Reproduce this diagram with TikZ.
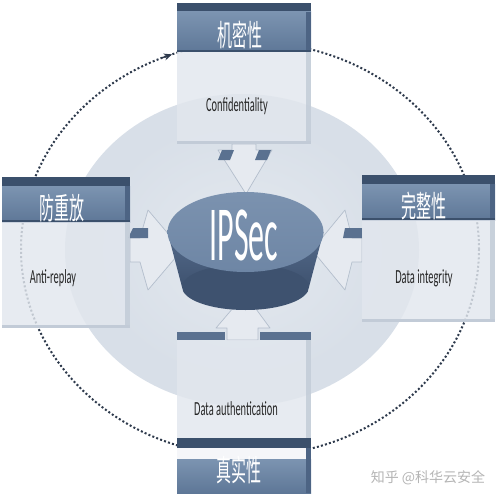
\documentclass[tikz,border=0pt]{standalone}
\usepackage{fontspec}
\setmainfont{Carlito}
\newfontfamily\cjk{Noto Sans CJK SC}
\usetikzlibrary{arrows.meta}
\definecolor{hdark}{HTML}{3B506C}
\definecolor{hblueT}{HTML}{7C94B1}
\definecolor{hblueB}{HTML}{5E7797}
\definecolor{hside}{HTML}{4D6484}
\definecolor{bodyc}{HTML}{E2E7EE}
\definecolor{bodyside}{HTML}{BCC6D3}
\definecolor{bodyedge}{HTML}{C2CBD7}
\definecolor{ellin}{HTML}{E4E9EF}
\definecolor{ellout}{HTML}{D8DFE8}
\definecolor{arrc}{HTML}{E6EAF0}
\definecolor{arredge}{HTML}{B3BECC}
\definecolor{tabc}{HTML}{5A7190}
\definecolor{cyltop}{HTML}{6E86A5}
\definecolor{cyltopL}{HTML}{7B92AF}
\definecolor{cylsideT}{HTML}{556B8B}
\definecolor{cylsideB}{HTML}{3E526F}
\definecolor{dotc}{HTML}{2E3A4C}
\definecolor{wmark}{HTML}{B5B5B5}
\newcommand\cnd[2]{\scalebox{#1}[1]{#2}}
\newcommand\ipbox[5]{%
  \fill[hdark] (#1,#2) rectangle (#3,#2+9);
  \shade[top color=hblueT, bottom color=hblueB] (#1,#2+9) rectangle (#3,#4);
  \fill[hside] (#3-5,#2+9) rectangle (#3,#4);
  \fill[hdark] (#1,#4-2) rectangle (#3,#4);
  \fill[bodyc, fill opacity=0.82] (#1,#4) rectangle (#3,#5);
  \fill[bodyside, fill opacity=0.7] (#3-5,#4) rectangle (#3,#5);
  \fill[bodyedge] (#1,#5-3) rectangle (#3,#5);
}
\tikzset{
  cn/.style={text=white, inner sep=0pt, font=\cjk\fontsize{30}{30}\selectfont},
  en/.style={text=black!85, inner sep=0pt, anchor=base, font=\fontsize{20}{20}\selectfont},
  arrow shape/.style={fill=arrc, draw=arredge, line width=0.7pt, line join=round},
  tab/.style={fill=tabc},
  dotline/.style={draw=dotc, line width=2pt, dash pattern=on 2pt off 2.2pt},
}
\begin{document}
\begin{tikzpicture}[x=1pt,y=-1pt]
\useasboundingbox (0,0) rectangle (500,500);
\fill[white] (0,0) rectangle (500,500);
% background ellipse
\fill[ellout] (242,250) ellipse [x radius=177, y radius=156];
\shade[inner color=ellin, outer color=ellout] (242,250) ellipse [x radius=150, y radius=130];
% dotted cycle
\draw[dotline] (250,249) ellipse [x radius=229, y radius=207];
\coordinate (arrS) at (162,57.8);
\coordinate (arrE) at (172,54.4);
\draw[draw=dotc, line width=1.4pt, -{Stealth[length=8pt,width=7pt]}] (arrS) -- (arrE);
% connector arrows
\draw[arrow shape] (232,144) -- (256,144) -- (256,150) -- (272,150) -- (246,194) -- (218,150) -- (232,150) -- cycle;
\fill[tab] (222,150) -- (234,150) -- (230,160) -- (218,160) -- cycle;
\fill[tab] (259,150) -- (271,150) -- (267,160) -- (255,160) -- cycle;
\draw[arrow shape] (130,238) -- (140,238) -- (148,210) -- (182,250) -- (148,290) -- (140,262) -- (130,262) -- cycle;
\fill[tab] (133,228) -- (148,228) -- (148,238) -- (128,238) -- cycle;
\draw[arrow shape] (362,238) -- (352,238) -- (345,210) -- (312,250) -- (345,290) -- (352,262) -- (362,262) -- cycle;
\fill[tab] (345,228) -- (362,228) -- (362,238) -- (343,238) -- cycle;
\draw[arrow shape] (227,340) -- (227,328) -- (216,328) -- (245,294) -- (270,328) -- (258,328) -- (258,340) -- cycle;
% boxes
\ipbox{177}{3}{311}{52}{144}
\ipbox{2}{177}{130}{222}{328}
\ipbox{362}{175}{495}{220}{322}
% bottom box
\fill[tab] (177,332) rectangle (225,340);
\fill[tab] (260,332) rectangle (311,340);
\fill[bodyc, fill opacity=0.82] (177,340) rectangle (311,438);
\fill[bodyside, fill opacity=0.7] (306,340) rectangle (311,438);
\fill[hdark] (177,438) rectangle (311,448);
\fill[white!92!hblueT] (177,448) rectangle (311,459);
\shade[top color=hblueT, bottom color=hblueB] (177,459) rectangle (311,493);
\fill[hside] (306,448) rectangle (311,493);
% cylinder
\shade[top color=cylsideT, bottom color=cylsideB] (167.5,232) -- (182,287) -- (309,287) -- (323.5,232) -- cycle;
\fill[cylsideB] (245.5,287) ellipse [x radius=63.5, y radius=23];
\shade[top color=cyltopL, bottom color=cyltop] (245.5,232) ellipse [x radius=78, y radius=40];
% texts
\node[cn] (h1) at (240,35) {\cnd{0.5}{机密性}};
\node[cn] (h2) at (62,208) {\cnd{0.5}{防重放}};
\node[cn] (h3) at (424,206) {\cnd{0.5}{完整性}};
\node[cn] (h4) at (239,470) {\cnd{0.5}{真实性}};
\node[en] (t1) at (237,112) {\cnd{0.52}{Confidentiality}};
\node[en] (t2) at (53,283) {\cnd{0.52}{Anti-replay}};
\node[en] (t3) at (424,283) {\cnd{0.52}{Data integrity}};
\node[en] (t4) at (236,415) {\cnd{0.52}{Data authentication}};
\node[text=white, inner sep=0pt, anchor=base, font=\fontsize{78}{78}\selectfont] (ip) at (244,260) {\cnd{0.41}{IPSec}};
\node[text=wmark, inner sep=0pt, font=\cjk\fontsize{14}{14}\selectfont] (wm) at (428,478) {知乎 @科华云安全};
\end{tikzpicture}
\end{document}
